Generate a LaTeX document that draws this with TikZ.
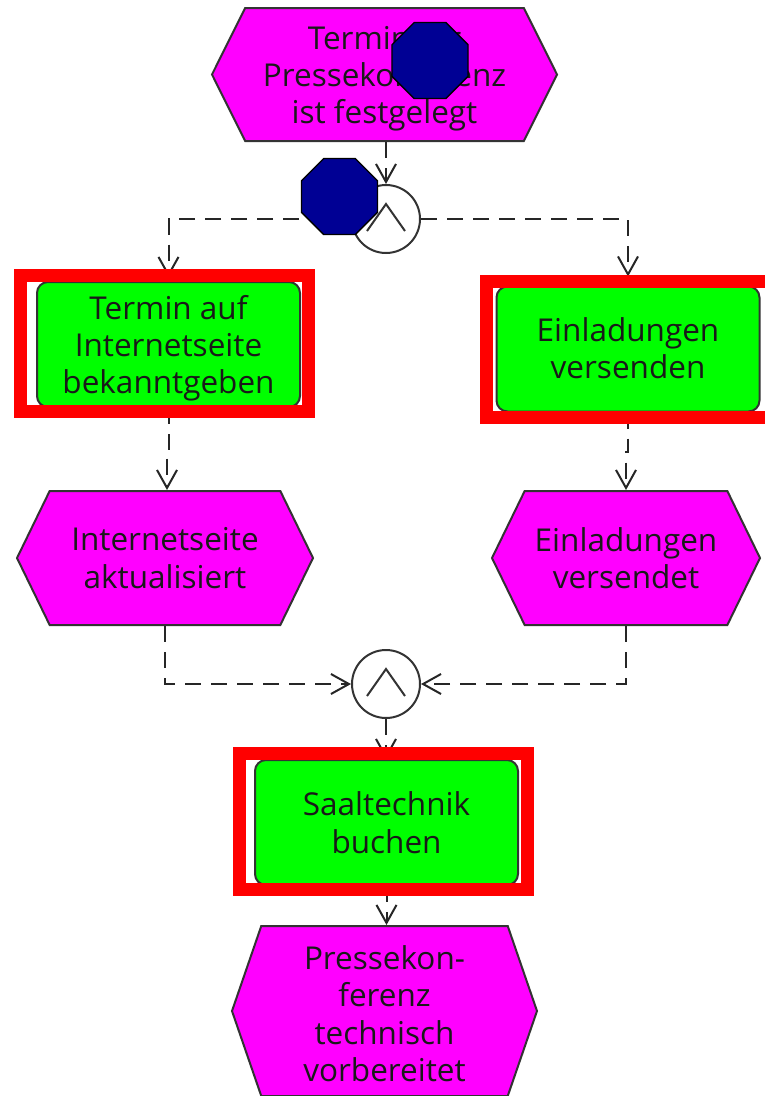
\documentclass[tikz,border=0pt]{standalone}
\usepackage{fontspec}
\setmainfont{Open Sans}
\usetikzlibrary{shapes.geometric,shapes.symbols,arrows.meta}
\definecolor{evmagenta}{RGB}{255,0,255}
\definecolor{fngreen}{RGB}{0,255,0}
\definecolor{marknavy}{RGB}{0,0,148}
\begin{document}
\begin{tikzpicture}[
        x=1pt, y=-1pt,
        event/.style={signal, signal to=west and east, draw=black!80, line width=2pt, fill=evmagenta, inner sep=0pt, align=center, font=\fontsize{31.5}{37.3}\selectfont, text=black!90, text depth=-4pt},
        function/.style={rectangle, draw=black!80, line width=2pt, fill=fngreen, rounded corners=11pt, inner sep=0pt, align=center, minimum width=263pt, minimum height=125pt, font=\fontsize{31.5}{37.3}\selectfont, text=black!90, text depth=-6pt},
        frame/.style={rectangle, draw=red, line width=13pt, minimum width=288pt, minimum height=136pt},
        andgate/.style={circle, draw=black!80, line width=2pt, fill=white, inner sep=0pt, minimum size=68pt,
            path picture={\draw[line width=2pt, black!80] ([shift={(-19pt,-12pt)}]path picture bounding box.center) -- ([shift={(0pt,15pt)}]path picture bounding box.center) -- ([shift={(19pt,-12pt)}]path picture bounding box.center);}},
        marker/.style={regular polygon, regular polygon sides=8, draw=black, line width=1.4pt, fill=marknavy, inner sep=0pt, minimum size=82.3pt},
        flow/.style={draw=black!85, line width=2pt, dash pattern=on 16pt off 10pt, -{Straight Barb[length=18pt,width=20pt,line width=2pt]}}
    ]
        \useasboundingbox (0,0) rectangle (765,1096);

        % Events
        \node[event, signal pointer angle=127, minimum width=345pt, minimum height=133pt] (ev_fixed) at (384.5,74.5) {Termin für\\Pressekonferenz\\ist festgelegt};
        \node[event, signal pointer angle=128, text depth=-5pt, minimum width=296pt, minimum height=134pt] (ev_web) at (165,558) {Internetseite\\aktualisiert};
        \node[event, signal pointer angle=128, minimum width=268pt, minimum height=134pt] (ev_sent) at (626,558) {Einladungen\\versendet};
        \node[event, signal pointer angle=142, text height=141pt, text depth=0pt, minimum width=305pt, minimum height=170pt] (ev_tech) at (384.5,1011) {Pressekon-\\ferenz\\technisch\\vorbereitet};

        % Connectors
        \node[andgate] (and_split) at (386,219) {};
        \node[andgate] (and_join) at (386,684) {};

        % Functions
        \node[function] (fn_web) at (168.5,344.5) {Termin auf\\Internetseite\\bekanntgeben};
        \node[function, text depth=2pt] (fn_mail) at (628,349) {Einladungen\\versenden};
        \node[function, text depth=-7pt] (fn_tech) at (386.5,822.5) {Saaltechnik\\buchen};

        % Bends of the flows
        \coordinate (jog_web) at (167,452);
        \coordinate (jog_mail) at (626,452);

        % Flows
        \draw[flow] (ev_fixed.south -| and_split.north) -- (and_split.north);
        \draw[flow, shorten >=4pt] (and_split.west) -| (fn_web.north);
        \draw[flow, shorten >=9pt] (and_split.east) -| (fn_mail.north);
        \draw[flow] (fn_web.south) |- (jog_web) -- (ev_web.north -| jog_web);
        \draw[flow] (fn_mail.south) |- (jog_mail) -- (ev_sent.north -| jog_mail);
        \draw[flow] (ev_web.south) |- (and_join.west);
        \draw[flow] (ev_sent.south) |- (and_join.east);
        \draw[flow] (and_join.south) -- (fn_tech.north -| and_join.south);
        \draw[flow] (fn_tech.south) -- (ev_tech.north -| fn_tech.south);

        % Red frames
        \node[frame] (frame_web) at (164.5,343.5) {};
        \node[frame] (frame_mail) at (630.5,349.5) {};
        \node[frame] (frame_tech) at (383,821) {};

        % Markers
        \node[marker] (mark_event) at (430,60.5) {};
        \node[marker] (mark_gate) at (339.5,196.5) {};
    \end{tikzpicture}
\end{document}
